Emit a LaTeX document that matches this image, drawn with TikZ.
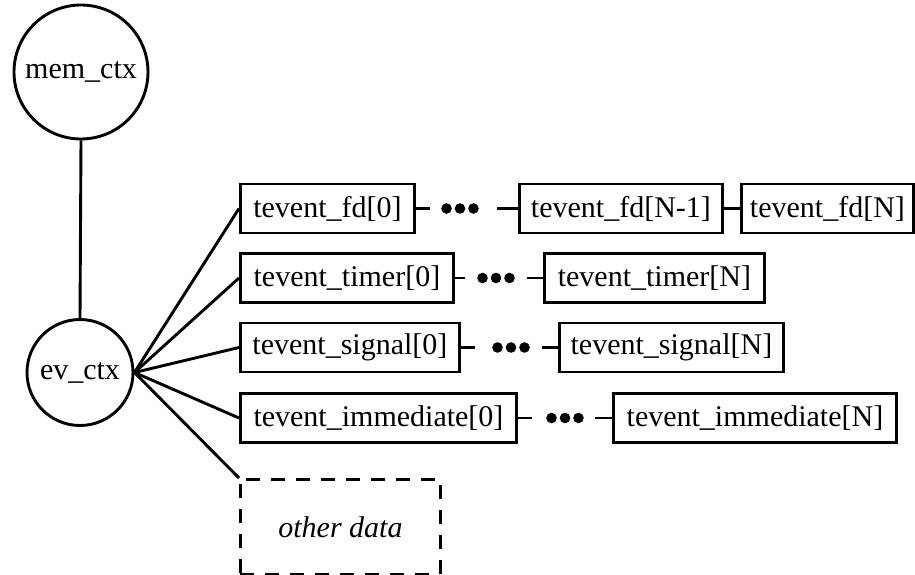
\documentclass[tikz,border=0pt]{standalone}
\usepackage{fontspec}
\setmainfont{Liberation Serif}
\begin{document}
\begin{tikzpicture}[x=1pt,y=-1pt,
  every node/.style={font=\fontsize{30}{36}\selectfont, inner sep=0pt},
  ln/.style={line width=2.9pt},
  circ/.style={circle, draw, line width=2.9pt},
  box/.style={draw, line width=2.9pt, minimum height=49pt, anchor=west},
  dashbox/.style={draw, line width=2.9pt, dash pattern=on 14pt off 11pt, anchor=north west, minimum width=200pt, minimum height=95pt},
  dots/.style={minimum width=42pt, minimum height=14pt, path picture={\fill (path picture bounding box.center) circle (5.3pt) ++(-13.5pt,0) circle (5.3pt) ++(27pt,0) circle (5.3pt);}}
]
\useasboundingbox (0,0) rectangle (915,575);

\node[circ, minimum size=134pt] (mem) at (81,72) {mem\_ctx};
\node[circ, minimum size=106pt] (ev) at (80,372.5) {ev\_ctx};
\draw[ln] (mem.south) -- (ev.north);

% row 1
\node[box, minimum width=174pt] (fd0) at (239,208.5) {tevent\_fd[0]};
\node[dots] (d1) at (460,208.5) {};
\node[box, minimum width=203pt] (fdN1) at (518,208.5) {tevent\_fd[N-1]};
\node[box, minimum width=172pt] (fdN) at (740,208.5) {tevent\_fd[N]};
\coordinate (a1) at (430,208.5);
\coordinate (b1) at (497,208.5);
\draw[ln] (fd0.east) -- (a1);
\draw[ln] (b1) -- (fdN1.west);
\draw[ln] (fdN1.east) -- (fdN.west);

% row 2
\node[box, minimum width=213pt] (tm0) at (239,278) {tevent\_timer[0]};
\node[dots] (d2) at (496,278) {};
\node[box, minimum width=220pt] (tmN) at (543,278) {tevent\_timer[N]};
\coordinate (a2) at (465,278);
\coordinate (b2) at (527,278);
\draw[ln] (tm0.east) -- (a2);
\draw[ln] (b2) -- (tmN.west);

% row 3
\node[box, minimum width=219pt] (sg0) at (239,347.5) {tevent\_signal[0]};
\node[dots] (d3) at (511,347.5) {};
\node[box, minimum width=224pt] (sgN) at (558,347.5) {tevent\_signal[N]};
\coordinate (a3) at (475,347.5);
\coordinate (b3) at (542,347.5);
\draw[ln] (sg0.east) -- (a3);
\draw[ln] (b3) -- (sgN.west);

% row 4
\node[box, minimum width=276pt] (im0) at (239,418) {tevent\_immediate[0]};
\node[dots] (d4) at (565,418) {};
\node[box, minimum width=283pt] (imN) at (612,418) {tevent\_immediate[N]};
\coordinate (a4) at (532,418);
\coordinate (b4) at (595,418);
\draw[ln] (im0.east) -- (a4);
\draw[ln] (b4) -- (imN.west);

% other data
\node[dashbox] (od) at (239,478) {\itshape other data};

% fan from ev_ctx
\draw[ln] (ev.east) -- (fd0.west);
\draw[ln] (ev.east) -- (tm0.west);
\draw[ln] (ev.east) -- (sg0.west);
\draw[ln] (ev.east) -- (im0.west);
\draw[ln] (ev.east) -- (od.north west);
\end{tikzpicture}
\end{document}
